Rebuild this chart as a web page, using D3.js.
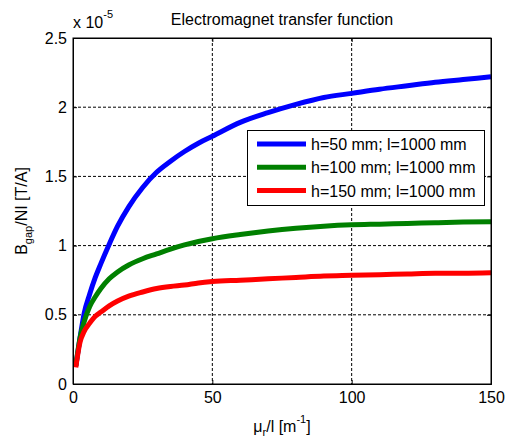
<!DOCTYPE html>
<html>
<head>
<meta charset="utf-8">
<script src="https://cdn.jsdelivr.net/npm/d3@7"></script>
<style>
  body { margin: 0; background: #fff; }
  text { font-family: "Liberation Sans", Arial, sans-serif; fill: #000; }
</style>
</head>
<body>
<div id="chart"></div>
<script>
// mu_r / l values (m^-1)
var muR = [1, 2.5, 4, 6, 8, 10, 13, 16, 20, 25, 30, 35, 40, 45, 50, 60, 70, 80, 90, 100, 110, 120, 130, 140, 150];

// B_gap / NI in units of 1e-5 T/A
var bH50  = [0.13, 0.33, 0.51, 0.65, 0.77, 0.87, 1.01, 1.14, 1.28, 1.42, 1.53, 1.61, 1.68, 1.74, 1.79, 1.89, 1.96, 2.02, 2.07, 2.10, 2.13, 2.155, 2.18, 2.20, 2.22];
var bH100 = [0.13, 0.33, 0.45, 0.56, 0.63, 0.69, 0.76, 0.81, 0.86, 0.905, 0.94, 0.975, 1.005, 1.03, 1.05, 1.08, 1.105, 1.125, 1.14, 1.15, 1.155, 1.16, 1.165, 1.17, 1.173];
var bH150 = [0.12, 0.30, 0.38, 0.44, 0.49, 0.52, 0.565, 0.60, 0.635, 0.665, 0.69, 0.705, 0.715, 0.73, 0.74, 0.75, 0.76, 0.77, 0.78, 0.785, 0.79, 0.795, 0.80, 0.80, 0.803];

var seriesNames = ["h=50 mm; l=1000 mm", "h=100 mm; l=1000 mm", "h=150 mm; l=1000 mm"];
var seriesColors = ["#0000ff", "#008000", "#ff0000"];

var xTicks = [0, 50, 100, 150];
var yTicks = [0, 0.5, 1, 1.5, 2, 2.5];

var W = 507, H = 439;
var plot = { left: 73, right: 491, top: 38, bottom: 384 };
var fs = "16px", fsSmall = "11px";

var svg = d3.select("#chart").append("svg")
  .attr("width", W).attr("height", H);

svg.append("rect").attr("width", W).attr("height", H).attr("fill", "#fff");

var x = d3.scaleLinear().domain([0, 150]).range([plot.left, plot.right]);
var y = d3.scaleLinear().domain([0, 2.5]).range([plot.bottom, plot.top]);

// dotted grid
svg.append("g").selectAll("line")
  .data(xTicks.slice(1, -1))
  .enter().append("line")
  .attr("x1", function(d) { return x(d); })
  .attr("x2", function(d) { return x(d); })
  .attr("y1", plot.top).attr("y2", plot.bottom)
  .attr("stroke", "#000").attr("stroke-width", 1)
  .attr("stroke-dasharray", "3,2");

svg.append("g").selectAll("line")
  .data(yTicks.slice(1, -1))
  .enter().append("line")
  .attr("y1", function(d) { return y(d); })
  .attr("y2", function(d) { return y(d); })
  .attr("x1", plot.left).attr("x2", plot.right)
  .attr("stroke", "#000").attr("stroke-width", 1)
  .attr("stroke-dasharray", "3,2");

// curves
var allSeries = [bH50, bH100, bH150];
var line = d3.line()
  .x(function(d, i) { return x(muR[i]); })
  .y(function(d) { return y(d); })
  .curve(d3.curveMonotoneX);

svg.append("g").selectAll("path")
  .data(allSeries)
  .enter().append("path")
  .attr("d", line)
  .attr("fill", "none")
  .attr("stroke", function(d, i) { return seriesColors[i]; })
  .attr("stroke-width", 5)
  .attr("stroke-linejoin", "round");

// axes (ticks inside, box on)
var fmt = function(d) { return String(d); };

svg.append("g")
  .attr("transform", "translate(0," + plot.bottom + ")")
  .call(d3.axisBottom(x).tickValues(xTicks).tickFormat(fmt).tickSize(-4).tickPadding(8));
svg.append("g")
  .attr("transform", "translate(" + plot.left + ",0)")
  .call(d3.axisLeft(y).tickValues(yTicks).tickFormat(fmt).tickSize(-4).tickPadding(6));
svg.append("g")
  .attr("transform", "translate(0," + plot.top + ")")
  .call(d3.axisTop(x).tickValues(xTicks).tickFormat("").tickSize(-4));
svg.append("g")
  .attr("transform", "translate(" + plot.right + ",0)")
  .call(d3.axisRight(y).tickValues(yTicks).tickFormat("").tickSize(-4));

svg.selectAll(".domain").attr("stroke", "#000").attr("stroke-width", 1);
svg.selectAll(".tick line").attr("stroke", "#000");
svg.selectAll(".tick text")
  .style("font-family", "'Liberation Sans', Arial, sans-serif")
  .style("font-size", fs)
  .attr("fill", "#000");

// box outline
svg.append("rect")
  .attr("x", plot.left).attr("y", plot.top)
  .attr("width", plot.right - plot.left).attr("height", plot.bottom - plot.top)
  .attr("fill", "none").attr("stroke", "#000").attr("stroke-width", 1);

// exponent label
var expo = svg.append("text")
  .attr("x", 73).attr("y", 28)
  .style("font-size", fs);
expo.append("tspan").text("x 10");
expo.append("tspan").attr("dy", -10).style("font-size", fsSmall).text("-5");

// title
svg.append("text")
  .attr("x", (plot.left + plot.right) / 2).attr("y", 25)
  .attr("text-anchor", "middle")
  .style("font-size", fs)
  .text("Electromagnet transfer function");

// x label
var xl = svg.append("text")
  .attr("x", (plot.left + plot.right) / 2).attr("y", 432)
  .attr("text-anchor", "middle")
  .style("font-size", fs);
xl.append("tspan").text("\u03bc");
xl.append("tspan").attr("dy", 4).style("font-size", fsSmall).text("r");
xl.append("tspan").attr("dy", -4).text("/l [m");
xl.append("tspan").attr("dy", -9).style("font-size", fsSmall).text("-1");
xl.append("tspan").attr("dy", 9).text("]");

// y label
var yl = svg.append("text")
  .attr("transform", "translate(27,211) rotate(-90)")
  .attr("text-anchor", "middle")
  .style("font-size", fs);
yl.append("tspan").text("B");
yl.append("tspan").attr("dy", 5).style("font-size", fsSmall).text("gap");
yl.append("tspan").attr("dy", -5).text("/NI [T/A]");

// legend
var legend = svg.append("g");
legend.append("rect")
  .attr("x", 247.5).attr("y", 130.5)
  .attr("width", 237).attr("height", 75)
  .attr("fill", "#fff").attr("stroke", "#000").attr("stroke-width", 1);

var rows = legend.selectAll("g.row")
  .data(seriesNames)
  .enter().append("g")
  .attr("class", "row")
  .attr("transform", function(d, i) { return "translate(0," + (144 + i * 23.3) + ")"; });

rows.append("line")
  .attr("x1", 257).attr("x2", 306)
  .attr("y1", 0).attr("y2", 0)
  .attr("stroke", function(d, i) { return seriesColors[i]; })
  .attr("stroke-width", 5);

rows.append("text")
  .attr("x", 311).attr("y", 6)
  .style("font-size", fs)
  .text(function(d) { return d; });
</script>
</body>
</html>
